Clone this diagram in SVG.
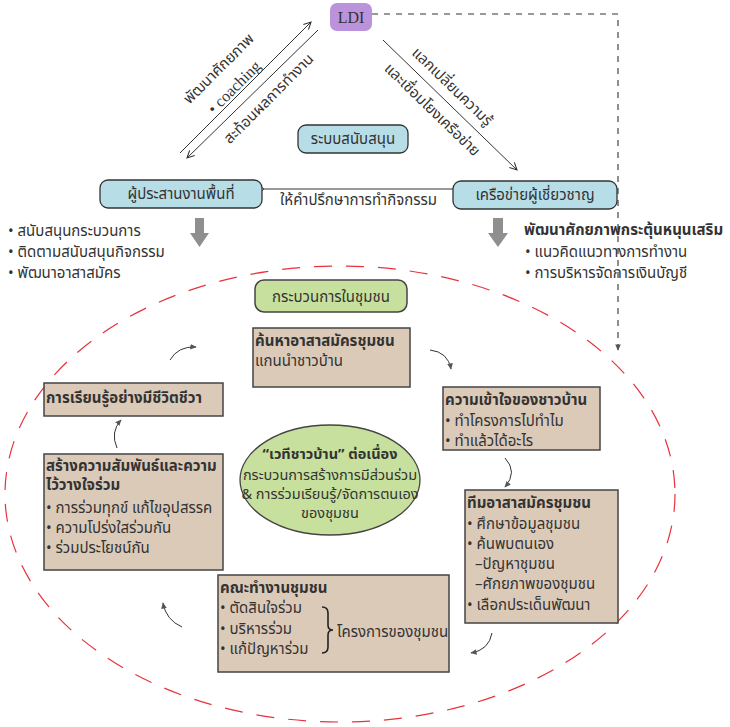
<svg xmlns="http://www.w3.org/2000/svg" width="730" height="727" viewBox="0 0 730 727">
<defs>
<style>
text{font-family:"Noto Sans Thai","Noto Sans","DejaVu Sans",sans-serif;font-size:15px;fill:#333}
.b{font-weight:bold}
.s{font-size:14.5px}
.blue{fill:#b7dde7;stroke:#333;stroke-width:1.3}
.tan{fill:#dccab9;stroke:#444;stroke-width:1.5}
.ln{fill:none;stroke:#333;stroke-width:1}
.cv{fill:none;stroke:#333;stroke-width:1}
.gray{fill:#8f8f8f}
</style>
<marker id="ah" viewBox="0 0 10 10" refX="9" refY="5" markerWidth="9" markerHeight="9" markerUnits="userSpaceOnUse" orient="auto">
<path d="M1,1 L9,5 L1,9" fill="none" stroke="#333" stroke-width="1.2"/>
</marker>
<marker id="sm" viewBox="0 0 10 10" refX="8" refY="5" markerWidth="7" markerHeight="7" markerUnits="userSpaceOnUse" orient="auto">
<path d="M0,1 L9,5 L0,9 Z" fill="#555"/>
</marker>
<marker id="dbl" viewBox="0 0 14 10" refX="1" refY="5" markerWidth="12" markerHeight="9" markerUnits="userSpaceOnUse" orient="auto">
<path d="M6,1 L1,5 L6,9 M12,1 L7,5 L12,9" fill="none" stroke="#333" stroke-width="1.1"/>
</marker>
</defs>
<rect width="730" height="727" fill="#fff"/>

<ellipse cx="340" cy="494" rx="335" ry="228" fill="none" stroke="#e8323c" stroke-width="1.2" stroke-dasharray="18 14"/>

<g id="connectors">
<line x1="180" y1="153" x2="311" y2="22" class="ln" marker-end="url(#ah)"/>
<line x1="318" y1="30" x2="187" y2="158" class="ln" marker-end="url(#ah)"/>
<line x1="383" y1="40" x2="517" y2="170" class="ln" marker-end="url(#ah)"/>
<line x1="453" y1="189" x2="264" y2="189" class="ln" marker-end="url(#dbl)"/>
<path d="M372,14 H618 V350" fill="none" stroke="#333" stroke-width="1.1" stroke-dasharray="6 6" marker-end="url(#sm)"/>
<path d="M195,218 h9 v15 h5 l-9.5,14 l-9.5,-14 h5 z" class="gray"/>
<path d="M493,218 h10 v15 h5 l-10,14 l-10,-14 h5 z" class="gray"/>
<path d="M170,360 Q178,346 196,347" class="cv" marker-end="url(#sm)"/>
<path d="M430,350 Q448,352 451,369" class="cv" marker-end="url(#sm)"/>
<path d="M505,458 Q518,472 505,487" class="cv" marker-end="url(#sm)"/>
<path d="M492,633 Q489,650 471,653" class="cv" marker-end="url(#sm)"/>
<path d="M182,627 Q166,620 163,603" class="cv" marker-end="url(#sm)"/>
<path d="M117,448 Q110,432 121,420" class="cv" marker-end="url(#sm)"/>
</g>

<g id="diag-labels">
<text transform="translate(219,69) rotate(-45)" text-anchor="middle" dominant-baseline="central">พัฒนาศักยภาพ</text>
<text transform="translate(234,87) rotate(-45)" text-anchor="middle" dominant-baseline="central" style="font-family:'Liberation Serif',serif;font-size:16px">• coaching</text>
<text transform="translate(269,99) rotate(-45)" text-anchor="middle" dominant-baseline="central">สะท้อนผลการทำงาน</text>
<text transform="translate(452,87) rotate(44)" text-anchor="middle" dominant-baseline="central">แลกเปลี่ยนความรู้</text>
<text transform="translate(432,110) rotate(44)" text-anchor="middle" dominant-baseline="central">และเชื่อมโยงเครือข่าย</text>
<text x="280" y="205">ให้คำปรึกษาการทำกิจกรรม</text>
</g>

<g id="ldi">
<rect x="330" y="3" width="42" height="28" rx="7" fill="#bb92dc"/>
<text x="351" y="23" text-anchor="middle" style="font-family:'Liberation Serif',serif;font-size:16px">LDI</text>
</g>

<g id="support">
<rect x="298" y="125" width="110" height="28" rx="8" class="blue"/>
<text x="353" y="144" text-anchor="middle">ระบบสนับสนุน</text>
</g>

<g id="coordinator">
<rect x="100" y="180" width="162" height="28" rx="8" class="blue"/>
<text x="181" y="199" text-anchor="middle">ผู้ประสานงานพื้นที่</text>
</g>

<g id="expert">
<rect x="453" y="181" width="164" height="28" rx="8" class="blue"/>
<text x="535" y="200" text-anchor="middle">เครือข่ายผู้เชี่ยวชาญ</text>
</g>

<g id="left-list">
<text x="8" y="236">• สนับสนุนกระบวนการ</text>
<text x="8" y="257">• ติดตามสนับสนุนกิจกรรม</text>
<text x="8" y="278">• พัฒนาอาสาสมัคร</text>
</g>

<g id="right-list">
<text x="524" y="235" class="b">พัฒนาศักยภาพกระตุ้นหนุนเสริม</text>
<text x="525" y="257">• แนวคิดแนวทางการทำงาน</text>
<text x="525" y="278">• การบริหารจัดการเงินบัญชี</text>
</g>

<g id="process">
<rect x="255" y="280" width="152" height="32" rx="9" fill="#c7e09d" stroke="#444" stroke-width="1.5"/>
<text x="331" y="302" text-anchor="middle">กระบวนการในชุมชน</text>
</g>

<g id="find">
<rect x="253" y="328" width="157" height="59" class="tan"/>
<text x="255" y="346" class="b">ค้นหาอาสาสมัครชุมชน</text>
<text x="255" y="366">แกนนำชาวบ้าน</text>
</g>

<g id="understand">
<rect x="443" y="387" width="157" height="63" class="tan"/>
<text x="445" y="405" class="b">ความเข้าใจของชาวบ้าน</text>
<text x="445" y="426">• ทำโครงการไปทำไม</text>
<text x="445" y="446">• ทำแล้วได้อะไร</text>
</g>

<g id="team">
<rect x="465" y="490" width="153" height="133" class="tan"/>
<text x="467" y="508" class="b">ทีมอาสาสมัครชุมชน</text>
<text x="467" y="529">• ศึกษาข้อมูลชุมชน</text>
<text x="467" y="549">• ค้นพบตนเอง</text>
<text x="475" y="569">–ปัญหาชุมชน</text>
<text x="475" y="589">–ศักยภาพของชุมชน</text>
<text x="467" y="610">• เลือกประเด็นพัฒนา</text>
</g>

<g id="committee">
<rect x="218" y="575" width="231" height="97" class="tan"/>
<text x="220" y="593" class="b">คณะทำงานชุมชน</text>
<text x="220" y="613">• ตัดสินใจร่วม</text>
<text x="220" y="634">• บริหารร่วม</text>
<text x="220" y="654">• แก้ปัญหาร่วม</text>
<path d="M322,607 q6,0 6,6 v12 q0,5 5,5 q-5,0 -5,5 v12 q0,6 -6,6" fill="none" stroke="#222" stroke-width="1.6"/>
<text x="337" y="637">โครงการของชุมชน</text>
</g>

<g id="relation">
<rect x="44" y="454" width="179" height="116" class="tan"/>
<text x="46" y="471" class="b">สร้างความสัมพันธ์และความ</text>
<text x="46" y="490" class="b">ไว้วางใจร่วม</text>
<text x="46" y="513">• การร่วมทุกข์ แก้ไขอุปสรรค</text>
<text x="46" y="533">• ความโปร่งใสร่วมกัน</text>
<text x="46" y="553">• ร่วมประโยชน์กัน</text>
</g>

<g id="learn">
<rect x="44" y="383" width="179" height="33" class="tan"/>
<text x="46" y="403" class="b">การเรียนรู้อย่างมีชีวิตชีวา</text>
</g>

<g id="forum">
<ellipse cx="330" cy="480" rx="90" ry="55" fill="#c7e09d" stroke="#444" stroke-width="1.3"/>
<text x="330" y="459" text-anchor="middle" class="b s">“เวทีชาวบ้าน” ต่อเนื่อง</text>
<text x="330" y="480" text-anchor="middle" class="s">กระบวนการสร้างการมีส่วนร่วม</text>
<text x="330" y="499" text-anchor="middle" class="s">&amp; การร่วมเรียนรู้/จัดการตนเอง</text>
<text x="330" y="518" text-anchor="middle" class="s">ของชุมชน</text>
</g>
</svg>
